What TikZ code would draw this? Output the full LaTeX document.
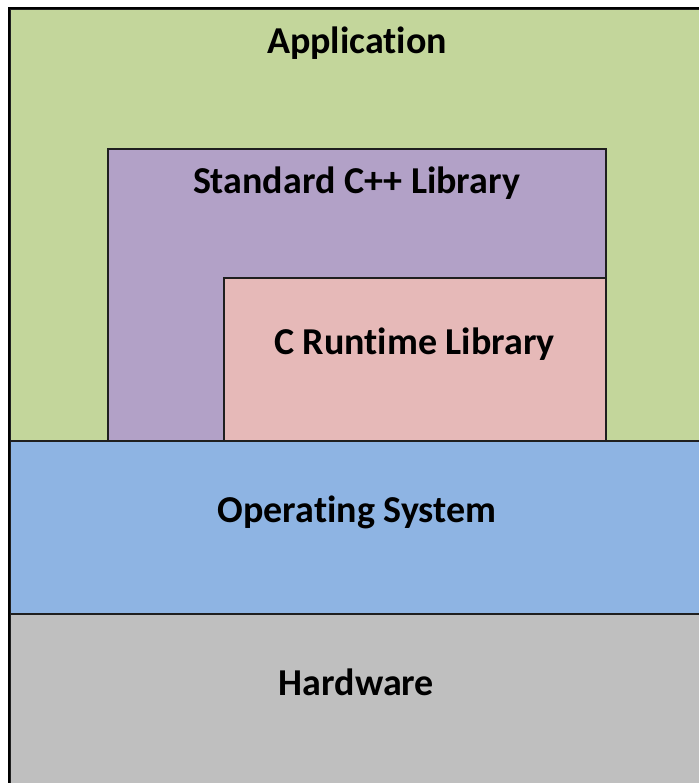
\documentclass[tikz,border=0pt]{standalone}
\usepackage{fontspec}
\setmainfont[Ligatures=NoCommon]{Carlito}
\definecolor{appgreen}{HTML}{C3D69B}
\definecolor{stdpurple}{HTML}{B2A1C7}
\definecolor{crtpink}{HTML}{E6B9B8}
\definecolor{osblue}{HTML}{8EB4E3}
\definecolor{hwgray}{HTML}{BFBFBF}
\tikzset{
  layerbox/.style={draw=black!88, line width=1.6pt, rectangle, inner sep=0pt, anchor=north west},
  layerlabel/.style={font=\fontsize{38}{42}\selectfont\bfseries, text=black, inner sep=0pt, anchor=base}
}
\begin{document}
\begin{tikzpicture}[x=1pt,y=-1pt]
\useasboundingbox (0,0) rectangle (698,783);
\fill[white] (0,0) rectangle (698,783);
% layers
\node[layerbox, fill=appgreen, minimum width=760pt, minimum height=432pt] (app) at (9,8) {};
\node[layerbox, fill=stdpurple, minimum width=498pt, minimum height=292pt] (std) at (107,148) {};
\node[layerbox, fill=crtpink, minimum width=382pt, minimum height=163pt] (crt) at (223,277) {};
\node[layerbox, fill=osblue, minimum width=760pt, minimum height=173pt] (os) at (9,440) {};
\node[layerbox, fill=hwgray, minimum width=760pt, minimum height=230pt] (hw) at (9,613) {};
\draw[black, line width=2pt] (9,820) -- (9,8) -- (760,8);
% labels
\node[layerlabel] (applbl) at (357,54) {Application};
\node[layerlabel] (stdlbl) at (356.5,194) {Standard C++ Library};
\node[layerlabel] (crtlbl) at (414.5,354) {C Runtime Library};
\node[layerlabel] (oslbl) at (357,522) {Operating System};
\node[layerlabel] (hwlbl) at (356.5,695) {Hardware};
\end{tikzpicture}
\end{document}
